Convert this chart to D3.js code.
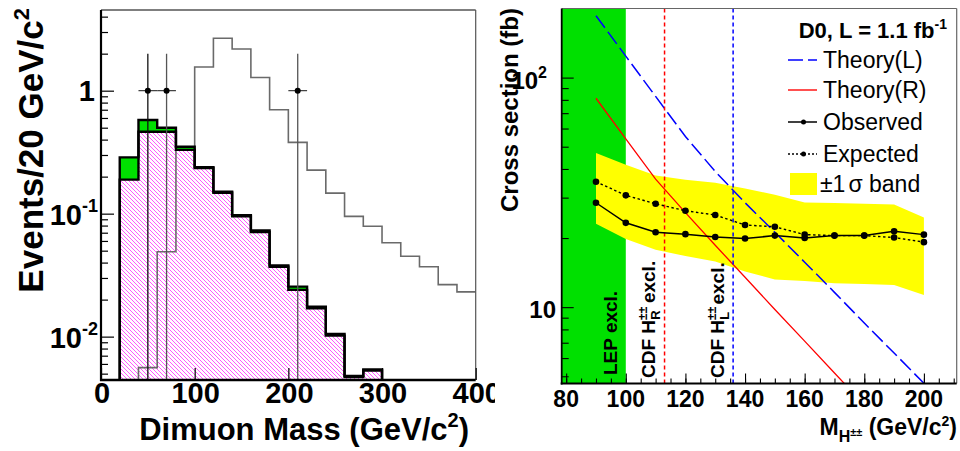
<!DOCTYPE html>
<html><head><meta charset="utf-8">
<script src="https://cdn.jsdelivr.net/npm/d3@7"></script>
<style>
body{margin:0;background:#fff}
svg{display:block}
text{font-family:"Liberation Sans",Arial,Helvetica,sans-serif}
</style>
</head><body>
<svg id="c" width="960" height="451"></svg>
<script>
// ================= LEFT PANEL DATA (20 GeV/c^2 bins, value = lower bin edge) =================
const binLow   = [0,20,40,60,80,100,120,140,160,180,200,220,240,260,280,300,320,340,360,380];
const binWidth = 20;
// main background (magenta hatched)
const bkgMain  = [0,0.189,0.464,0.464,0.33,0.235,0.148,0.095,0.071,0.037,0.024,0.017,0.0102,0.0047,0.0053,0,0,0,0,0];
// other background (green, stacked on top)
const bkgOther = [0,0.098,0.114,0.036,0.02,0.004,0.003,0.002,0.002,0.001,0.0015,0.0005,0.0003,0.0001,0.0001,0,0,0,0,0];
// expected signal (open histogram)
const signal   = [0,0,0.0056,0.049,0.33,1.56,2.67,2.18,1.28,0.70,0.38,0.226,0.147,0.095,0.079,0.058,0.045,0.037,0.0265,0.0231];
// data
const dataMass   = [50,70,210];
const dataEvents = [1,1,1];
const dataErr    = [1,1,1];
const leftXTicks = [0,100,200,300,400];
const leftYMajor = [0.01,0.1,1];
const leftYMinor = [0.005,0.006,0.007,0.008,0.009,0.02,0.03,0.04,0.05,0.06,0.07,0.08,0.09,0.2,0.3,0.4,0.5,0.6,0.7,0.8,0.9,2,3,4];

// ================= RIGHT PANEL DATA =================
const hMass     = [90,100,110,120,130,140,150,160,170,180,190,200];
const observed  = [28.5,23.3,21.2,20.8,20.2,19.9,20.5,20.0,20.5,20.5,21.4,20.7];
const expected  = [35.2,30.7,28.2,26.3,25.2,22.8,22.4,20.7,20.5,20.5,20.1,19.2];
const bandHigh  = [47.0,41.7,37.5,35.9,34.8,32.9,30.9,28.6,28.4,28.2,28.0,24.6];
const bandLow   = [23.1,19.8,17.8,16.7,15.8,14.3,13.2,13.0,12.7,12.6,12.5,11.3];
const theoryL   = [186,124,82.8,55.4,39.0,28.5,21.2,15.7,11.6,8.53,6.31,4.66];
const theoryR   = [81.3,54.1,36.1,25.8,18.6,13.5,9.77,7.11,5.17,3.75,2.72,1.98];
const lepLimit  = 100;
const cdfLimitR = 113;
const cdfLimitL = 136;
const rightXTicks = [80,100,120,140,160,180,200];
const rightYMajor = [10,100];
const rightYMinor = [5,6,7,8,9,20,30,40,50,60,70,80,90];
const legendLabels = ["Theory(L)","Theory(R)","Observed","Expected","\u00b11\u03c3 band"];

// ================= SCALES =================
const xL = d3.scaleLinear().domain([0,400]).range([101,475.7]);
const yL = d3.scaleLog().domain([0.00444,4.53]).range([380,10]);
const xR = d3.scaleLinear().domain([78.5,211]).range([561.7,956.7]);
const yR = d3.scaleLog().domain([4.65,200]).range([383.5,8.5]);

const svg = d3.select("#c");
const defs = svg.append("defs");
const pat = defs.append("pattern").attr("id","hatch").attr("patternUnits","userSpaceOnUse").attr("width",4).attr("height",4);
pat.append("rect").attr("width",4).attr("height",4).attr("fill","#fff");
pat.append("path").attr("d","M-1,-1L5,5M3,-1L5,1M-1,3L1,5").attr("stroke","#ff22ff").attr("stroke-width",0.75);
defs.append("clipPath").attr("id","clipL").append("rect")
  .attr("x",xL.range()[0]).attr("y",yL.range()[1])
  .attr("width",xL.range()[1]-xL.range()[0]).attr("height",yL.range()[0]-yL.range()[1]);
defs.append("clipPath").attr("id","padL").append("rect").attr("x",0).attr("y",0).attr("width",495).attr("height",451);
defs.append("clipPath").attr("id","clipR").append("rect")
  .attr("x",xR.range()[0]).attr("y",yR.range()[1])
  .attr("width",xR.range()[1]-xR.range()[0]).attr("height",yR.range()[0]-yR.range()[1]);

const line = d3.line();
function stepPoints(vals, dropEnd){
  const yBot = yL.range()[0]+6;
  let first=-1,last=-1;
  vals.forEach((v,i)=>{ if(v>0){ if(first<0) first=i; last=i; } });
  const pts=[[xL(binLow[first]),yBot]];
  for(let i=first;i<=last;i++){
    const yy = vals[i]>0 ? yL(vals[i]) : yBot;
    pts.push([xL(binLow[i]),yy],[xL(binLow[i]+binWidth),yy]);
  }
  if(dropEnd) pts.push([xL(binLow[last]+binWidth),yBot]);
  return pts;
}

// ================= LEFT PANEL =================
const L = svg.append("g").attr("clip-path","url(#padL)");
const LP = L.append("g").attr("clip-path","url(#clipL)");
const total = bkgMain.map((v,i)=>v+bkgOther[i]);
LP.append("path").attr("d",line(stepPoints(total,true))+"Z").attr("fill","#00e000");
LP.append("path").attr("d",line(stepPoints(bkgMain,true))+"Z").attr("fill","url(#hatch)");
LP.append("path").attr("d",line(stepPoints(signal,false))).attr("fill","none").attr("stroke","#6a6a6a").attr("stroke-width",1.6);
LP.append("path").attr("d",line(stepPoints(total,true))).attr("fill","none").attr("stroke","#000").attr("stroke-width",2.4);
LP.append("path").attr("d",line(stepPoints(bkgMain,true))).attr("fill","none").attr("stroke","#000").attr("stroke-width",2.4);
// data points
dataMass.forEach((m,i)=>{
  const g = LP.append("g");
  const lo = dataEvents[i]-dataErr[i];
  g.append("line").attr("x1",xL(m)).attr("x2",xL(m))
    .attr("y1",yL(dataEvents[i]+dataErr[i])).attr("y2",lo>0?yL(lo):yL.range()[0]+5)
    .attr("stroke",i===0?"#111":"#555").attr("stroke-width",1.3);
  g.append("line").attr("x1",xL(m-binWidth/2)).attr("x2",xL(m+binWidth/2))
    .attr("y1",yL(dataEvents[i])).attr("y2",yL(dataEvents[i]))
    .attr("stroke","#444").attr("stroke-width",1.3);
  g.append("circle").attr("cx",xL(m)).attr("cy",yL(dataEvents[i])).attr("r",3).attr("fill","#000");
});
// frame
L.append("line").attr("x1",xL.range()[0]).attr("x2",xL.range()[1]).attr("y1",yL.range()[1]).attr("y2",yL.range()[1]).attr("stroke","#000").attr("stroke-width",1.2);
L.append("line").attr("x1",xL.range()[1]).attr("x2",xL.range()[1]).attr("y1",yL.range()[1]).attr("y2",yL.range()[0]).attr("stroke","#555").attr("stroke-width",1.2);
// axes
const axLmin = L.append("g").attr("transform",`translate(${xL.range()[0]},0)`)
  .call(d3.axisLeft(yL).tickValues(leftYMinor).tickSize(-7).tickFormat(""));
const axLmaj = L.append("g").attr("transform",`translate(${xL.range()[0]},0)`)
  .call(d3.axisLeft(yL).tickValues(leftYMajor).tickSize(-13).tickFormat(""));
const axLx = L.append("g").attr("transform",`translate(0,${yL.range()[0]})`)
  .call(d3.axisBottom(xL).tickValues(leftXTicks).tickSize(-12).tickFormat(""));
[axLmin,axLmaj,axLx].forEach(a=>{a.selectAll(".tick line").attr("stroke","#000").attr("stroke-width",1.2); a.select(".domain").remove();});
L.append("line").attr("x1",xL.range()[0]).attr("x2",xL.range()[0]).attr("y1",yL.range()[1]).attr("y2",yL.range()[0]+1).attr("stroke","#000").attr("stroke-width",2.2);
L.append("line").attr("x1",xL.range()[0]-1).attr("x2",xL.range()[1]).attr("y1",yL.range()[0]).attr("y2",yL.range()[0]).attr("stroke","#000").attr("stroke-width",2.6);
// tick labels
L.selectAll(".xlab").data(leftXTicks).enter().append("text")
  .attr("x",d=>xL(d)+1).attr("y",403).attr("text-anchor","middle")
  .attr("font-size",29).attr("font-weight","bold").text(d=>d);
leftYMajor.forEach(v=>{
  const t = L.append("text").attr("text-anchor","end").attr("font-weight","bold").attr("font-size",29);
  if(v===1){ t.attr("x",95).attr("y",yL(v)+10).text("1"); }
  else {
    t.attr("x",98).attr("y",yL(v)+11);
    t.append("tspan").text("10");
    t.append("tspan").attr("font-size",18).attr("dy",-13).text(String(Math.round(Math.log10(v))));
  }
});
// axis titles
const yt = L.append("text").attr("transform","translate(43,8) rotate(-90)").attr("text-anchor","end")
  .attr("font-size",35).attr("font-weight","bold");
yt.append("tspan").text("Events/20 GeV/c");
yt.append("tspan").attr("font-size",22).attr("dy",-14).text("2");
const xt = L.append("text").attr("x",469).attr("y",440).attr("text-anchor","end").attr("font-size",31).attr("font-weight","bold");
xt.append("tspan").text("Dimuon Mass (GeV/c");
xt.append("tspan").attr("font-size",20).attr("dy",-13).text("2");
xt.append("tspan").attr("dy",13).text(")");

// ================= RIGHT PANEL =================
const R = svg.append("g");
const RP = R.append("g").attr("clip-path","url(#clipR)");
RP.append("rect").attr("x",xR(78.5)).attr("y",yR.range()[1]).attr("width",xR(lepLimit)-xR(78.5))
  .attr("height",yR.range()[0]-yR.range()[1]).attr("fill","#00e000");
const pts = hMass.map((m,i)=>({m,obs:observed[i],exp:expected[i],hi:bandHigh[i],lo:bandLow[i],tl:theoryL[i],tr:theoryR[i]}));
RP.append("path").attr("d",d3.area().x(d=>xR(d.m)).y0(d=>yR(d.lo)).y1(d=>yR(d.hi))(pts)).attr("fill","#ffff00");
RP.append("path").attr("d",d3.line().x(d=>xR(d.m)).y(d=>yR(d.tl))(pts)).attr("fill","none")
  .attr("stroke","#0000ff").attr("stroke-width",1.5).attr("stroke-dasharray","15,5");
RP.append("path").attr("d",d3.line().x(d=>xR(d.m)).y(d=>yR(d.tr))(pts)).attr("fill","none")
  .attr("stroke","#ff0000").attr("stroke-width",1.3);
RP.append("line").attr("x1",xR(cdfLimitR)).attr("x2",xR(cdfLimitR)).attr("y1",yR.range()[0]).attr("y2",yR.range()[1])
  .attr("stroke","#ff0000").attr("stroke-width",1.5).attr("stroke-dasharray","4,3");
RP.append("line").attr("x1",xR(cdfLimitL)).attr("x2",xR(cdfLimitL)).attr("y1",yR.range()[0]).attr("y2",yR.range()[1])
  .attr("stroke","#0000ff").attr("stroke-width",1.5).attr("stroke-dasharray","4,3");
RP.append("path").attr("d",d3.line().x(d=>xR(d.m)).y(d=>yR(d.exp))(pts)).attr("fill","none")
  .attr("stroke","#000").attr("stroke-width",1.4).attr("stroke-dasharray","2.5,2.5");
RP.append("path").attr("d",d3.line().x(d=>xR(d.m)).y(d=>yR(d.obs))(pts)).attr("fill","none")
  .attr("stroke","#000").attr("stroke-width",1.5);
RP.selectAll(".pe").data(pts).enter().append("circle").attr("cx",d=>xR(d.m)).attr("cy",d=>yR(d.exp)).attr("r",3.3).attr("fill","#000");
RP.selectAll(".po").data(pts).enter().append("circle").attr("cx",d=>xR(d.m)).attr("cy",d=>yR(d.obs)).attr("r",3.3).attr("fill","#000");

// rotated annotations
function rotText(x,y,parts){
  const t = R.append("text").attr("transform",`translate(${x},${y}) rotate(-90)`).attr("font-size",19).attr("font-weight","bold");
  parts.forEach(p=>{ const s=t.append("tspan").text(p.t); if(p.fs) s.attr("font-size",p.fs); if(p.dy) s.attr("dy",p.dy); if(p.dx) s.attr("dx",p.dx); });
}
rotText(616.5,375,[{t:"LEP excl."}]);
rotText(655,378,[{t:"CDF H"},{t:"\u00b1\u00b1",fs:12,dy:-8},{t:"R",fs:13,dy:13,dx:-13},{t:" excl.",dy:-5,dx:2}]);
rotText(724,378,[{t:"CDF H"},{t:"\u00b1\u00b1",fs:12,dy:-8},{t:"L",fs:13,dy:13,dx:-13},{t:" excl.",dy:-5,dx:2}]);

// frame
R.append("line").attr("x1",xR.range()[0]).attr("x2",xR.range()[1]).attr("y1",yR.range()[1]).attr("y2",yR.range()[1]).attr("stroke","#666").attr("stroke-width",1.2);
R.append("line").attr("x1",xR.range()[1]).attr("x2",xR.range()[1]).attr("y1",yR.range()[1]).attr("y2",yR.range()[0]).attr("stroke","#666").attr("stroke-width",1.2);
const rxMinor = d3.range(80,211,5);
const axRxm = R.append("g").attr("transform",`translate(0,${yR.range()[0]})`)
  .call(d3.axisBottom(xR).tickValues(rxMinor).tickSize(-5).tickFormat(""));
const axRxM = R.append("g").attr("transform",`translate(0,${yR.range()[0]})`)
  .call(d3.axisBottom(xR).tickValues(rightXTicks).tickSize(-10).tickFormat(""));
const axRym = R.append("g").attr("transform",`translate(${xR.range()[0]},0)`)
  .call(d3.axisLeft(yR).tickValues(rightYMinor).tickSize(-7).tickFormat(""));
const axRyM = R.append("g").attr("transform",`translate(${xR.range()[0]},0)`)
  .call(d3.axisLeft(yR).tickValues(rightYMajor).tickSize(-12).tickFormat(""));
[axRxm,axRxM,axRym,axRyM].forEach(a=>{a.selectAll(".tick line").attr("stroke","#000").attr("stroke-width",1.1); a.select(".domain").remove();});
R.append("line").attr("x1",xR.range()[0]).attr("x2",xR.range()[0]).attr("y1",yR.range()[1]).attr("y2",yR.range()[0]+1).attr("stroke","#000").attr("stroke-width",1.8);
R.append("line").attr("x1",xR.range()[0]-1).attr("x2",xR.range()[1]).attr("y1",yR.range()[0]).attr("y2",yR.range()[0]).attr("stroke","#000").attr("stroke-width",2);
R.selectAll(".rxl").data(rightXTicks).enter().append("text")
  .attr("x",d=>xR(d)).attr("y",407).attr("text-anchor","middle").attr("font-size",23).attr("font-weight","bold").text(d=>d);
rightYMajor.forEach(v=>{
  const t = R.append("text").attr("text-anchor","end").attr("font-weight","bold").attr("font-size",24).attr("y",yR(v)+11);
  if(v===10){ t.attr("x",556).text("10"); }
  else { t.attr("x",547); t.append("tspan").text("10"); t.append("tspan").attr("font-size",16).attr("dy",-11).text("2"); }
});
// titles
R.append("text").attr("transform","translate(518,8) rotate(-90)").attr("text-anchor","end")
  .attr("font-size",24).attr("font-weight","bold").text("Cross section (fb)");
const rxt = R.append("text").attr("x",957).attr("y",435).attr("text-anchor","end").attr("font-size",23).attr("font-weight","bold");
rxt.append("tspan").text("M");
rxt.append("tspan").attr("font-size",16).attr("dy",7).text("H");
rxt.append("tspan").attr("font-size",11).attr("dy",-6).text("\u00b1\u00b1");
rxt.append("tspan").attr("dy",-1).text(" (GeV/c");
rxt.append("tspan").attr("font-size",14).attr("dy",-9).text("2");
rxt.append("tspan").attr("dy",9).text(")");

// legend
const lt = R.append("text").attr("x",947).attr("y",38).attr("text-anchor","end").attr("font-size",22).attr("font-weight","bold");
lt.append("tspan").text("D0, L = 1.1 fb");
lt.append("tspan").attr("font-size",14).attr("dy",-9).text("-1");
const legY = [60,90,122,154,184];
const lx0 = 788, lx1 = 817;
R.append("line").attr("x1",lx0).attr("x2",lx1).attr("y1",legY[0]).attr("y2",legY[0]).attr("stroke","#0000ff").attr("stroke-width",1.5).attr("stroke-dasharray","15,5");
R.append("line").attr("x1",lx0).attr("x2",lx1).attr("y1",legY[1]).attr("y2",legY[1]).attr("stroke","#ff5050").attr("stroke-width",2);
R.append("line").attr("x1",lx0).attr("x2",lx1).attr("y1",legY[2]).attr("y2",legY[2]).attr("stroke","#000").attr("stroke-width",1.5);
R.append("circle").attr("cx",(lx0+lx1)/2+1).attr("cy",legY[2]).attr("r",2.5).attr("fill","#000");
R.append("line").attr("x1",lx0).attr("x2",lx1).attr("y1",legY[3]).attr("y2",legY[3]).attr("stroke","#000").attr("stroke-width",1.4).attr("stroke-dasharray","2,2");
R.append("circle").attr("cx",(lx0+lx1)/2+1).attr("cy",legY[3]).attr("r",2.5).attr("fill","#000");
R.append("rect").attr("x",790).attr("y",173).attr("width",27).attr("height",22).attr("fill","#ffff00");
legendLabels.forEach((s,i)=>{
  const t = R.append("text").attr("x",i===4?820:823).attr("y",legY[i]+8).attr("font-size",23);
  if(i===4){ t.append("tspan").text("\u00b11"); t.append("tspan").attr("dx",3).text("\u03c3 band"); }
  else t.text(s);
});
</script>
</body></html>
